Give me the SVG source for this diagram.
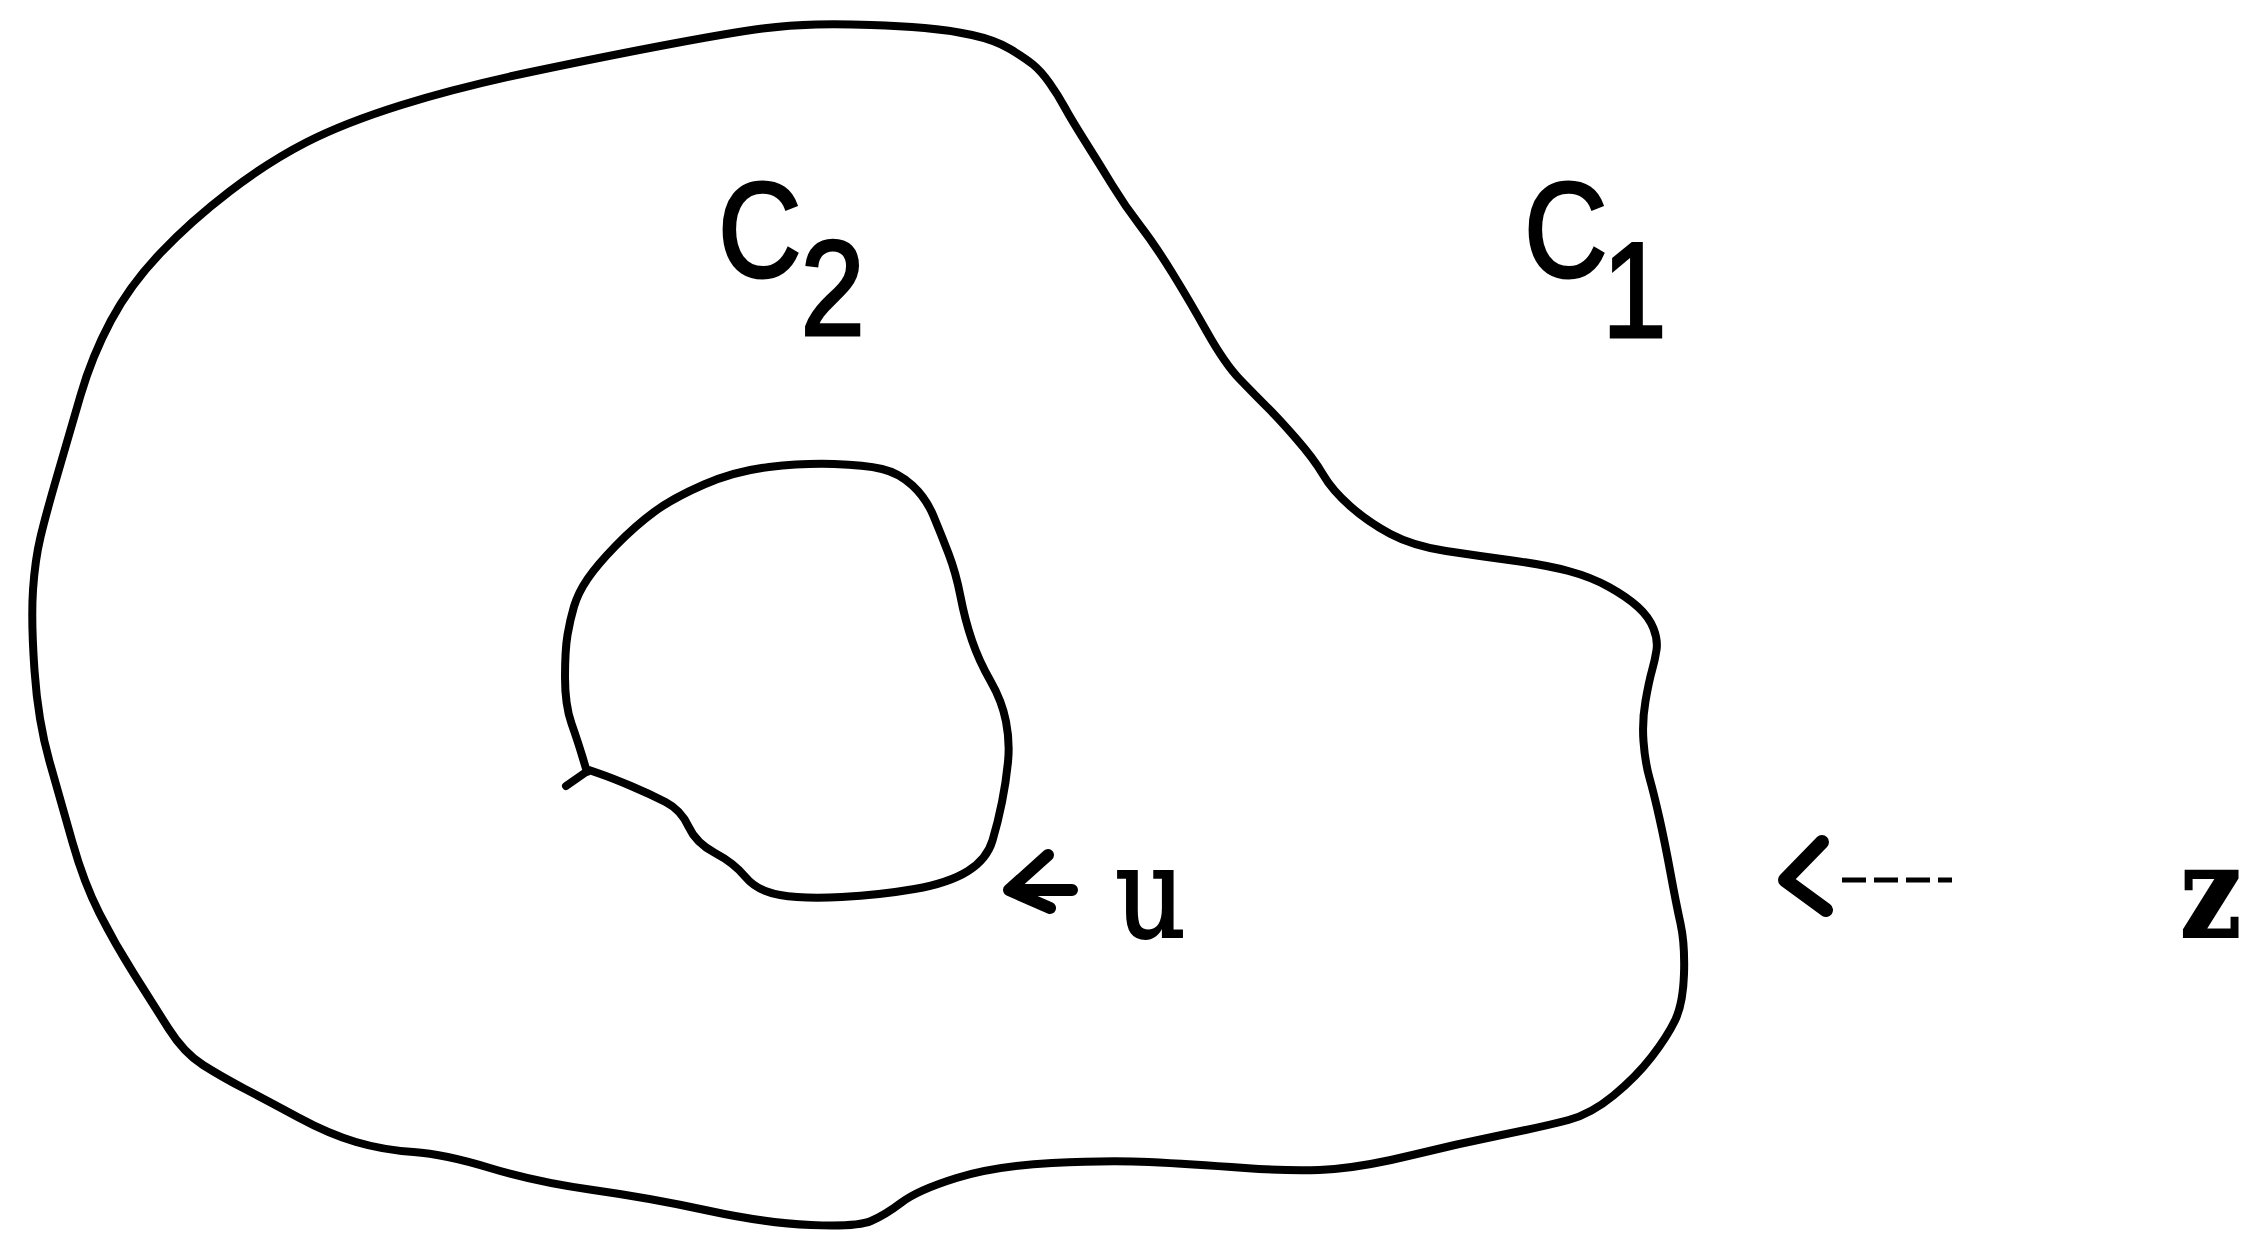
<svg xmlns="http://www.w3.org/2000/svg" width="2247" height="1234" viewBox="0 0 2247 1234">
<style>
.curve{fill:none;stroke:#000;stroke-width:8;stroke-linejoin:round;stroke-linecap:round}
.lbl{font-family:"Liberation Sans",Arial,sans-serif;font-size:136px;fill:#000;stroke:#000;stroke-width:3}
.mono{font-family:"DejaVu Serif","Liberation Serif",serif;font-size:127px;fill:#000;stroke:#000;stroke-width:2}
.arr{fill:none;stroke:#000;stroke-linecap:round;stroke-linejoin:round}
</style>
<rect width="2247" height="1234" fill="#fff"/>
<g id="outer">
<path class="curve" d="M816,24.5 Q842,24 871,25 Q900,26 924.5,28 Q949,30 972,35 Q995,40 1010,49 Q1025,58 1033,64.5 Q1041,71 1049.5,83 Q1058,95 1064.5,107 Q1071,119 1085.5,142 Q1100,165 1112.5,185.5 Q1125,206 1140,225.5 Q1155,245 1172,272.5 Q1189,300 1207,332 Q1225,364 1240,379.5 Q1255,395 1267,407 Q1279,419 1296.5,439 Q1314,459 1323,474.5 Q1332,490 1350,506 Q1368,522 1390.5,534 Q1413,546 1446,551 Q1479,556 1512.5,560.5 Q1546,565 1568.5,571 Q1591,577 1609,587 Q1627,597 1638,607 Q1649,617 1653.5,628.5 Q1658,640 1656.5,650 Q1655,660 1652,670.5 Q1649,681 1645.5,701 Q1642,721 1643.5,741.5 Q1645,762 1649.5,778 Q1654,794 1659.5,818.5 Q1665,843 1670.5,873 Q1676,903 1680.5,923.5 Q1685,944 1684,974 Q1683,1004 1675,1020.5 Q1667,1037 1651.5,1057 Q1636,1077 1613.5,1095.5 Q1591,1114 1568.5,1120 Q1546,1126 1501.5,1135 Q1457,1144 1412.5,1155 Q1368,1166 1334.5,1169 Q1301,1172 1245,1168 Q1189,1164 1149,1162 Q1109,1160 1052,1163 Q995,1166 956.5,1178 Q918,1190 901.5,1202.5 Q885,1215 871,1221 Q857,1227 811,1225 Q765,1223 707.5,1210.5 Q650,1198 593,1190 Q536,1182 490,1168 Q444,1154 413.5,1152 Q383,1150 356,1142 Q329,1134 298.5,1117.5 Q268,1101 245,1089 Q222,1077 203,1065 Q184,1053 168.5,1028.5 Q153,1004 134,974 Q115,944 99.5,913.5 Q84,883 72.5,842.5 Q61,802 49.5,761.5 Q38,721 34.5,670.5 Q31,620 33,590 Q35,560 40.5,537 Q46,514 57.5,474.5 Q69,435 80.5,395.5 Q92,356 111,320.5 Q130,285 160.5,253 Q191,221 229.5,191.5 Q268,162 306,142.5 Q344,123 401.5,105 Q459,87 535.5,71 Q612,55 673.5,43.5 Q735,32 762.5,28.5 Q790,25 816,24.5 Z"/>
</g>
<g id="inner">
<path class="curve" d="M566,786 L589,770 L600.5,774 Q612,778 631,786 Q650,794 665.5,802 Q681,810 688.5,826.5 Q696,843 715,853 Q734,863 745.5,877 Q757,891 780,895 Q803,899 841.5,897 Q880,895 914.5,889 Q949,883 968,871 Q987,859 992.5,840.5 Q998,822 1002,802 Q1006,782 1008,762 Q1010,742 1006,721.5 Q1002,701 990.5,681 Q979,661 972,640.5 Q965,620 960.5,596.5 Q956,573 948.5,553.5 Q941,534 933.5,516 Q926,498 912.5,485.5 Q899,473 882,469 Q865,465 834,464 Q803,463 769,467 Q735,471 704,484.5 Q673,498 654,512 Q635,526 616,545.5 Q597,565 587.5,579 Q578,593 574,606.5 Q570,620 567.5,635 Q565,650 565,677.5 Q565,705 571.5,723.5 Q578,742 582.5,757 L587,772"/>
</g>
<g id="label-C2" transform="translate(718,0) scale(0.85,1)">
<text class="lbl" x="0" y="277">C<tspan x="97" y="335">2</tspan></text>
</g>
<g id="label-C1" transform="translate(1524,0) scale(0.85,1)">
<text class="lbl" x="0" y="277">C<tspan x="92" y="337">1</tspan></text>
</g>
<g id="label-u" transform="translate(1115,937) scale(0.87,1)">
<text class="mono" x="0" y="0">u</text>
</g>
<g id="label-z" transform="translate(2180,937) scale(0.85,1)">
<text class="mono" x="0" y="0" font-weight="bold" stroke-width="1">z</text>
</g>
<g id="connectors">
<path class="arr" stroke-width="12" d="M1048,855 L1009,890 L1050,908 M1009,890 L1072,890"/>
<path class="arr" stroke-width="14" d="M1822,842 L1785,880 L1826,910"/>
<line x1="1842" y1="880" x2="1952" y2="880" stroke="#000" stroke-width="5" stroke-dasharray="24,8"/>
</g>
</svg>
